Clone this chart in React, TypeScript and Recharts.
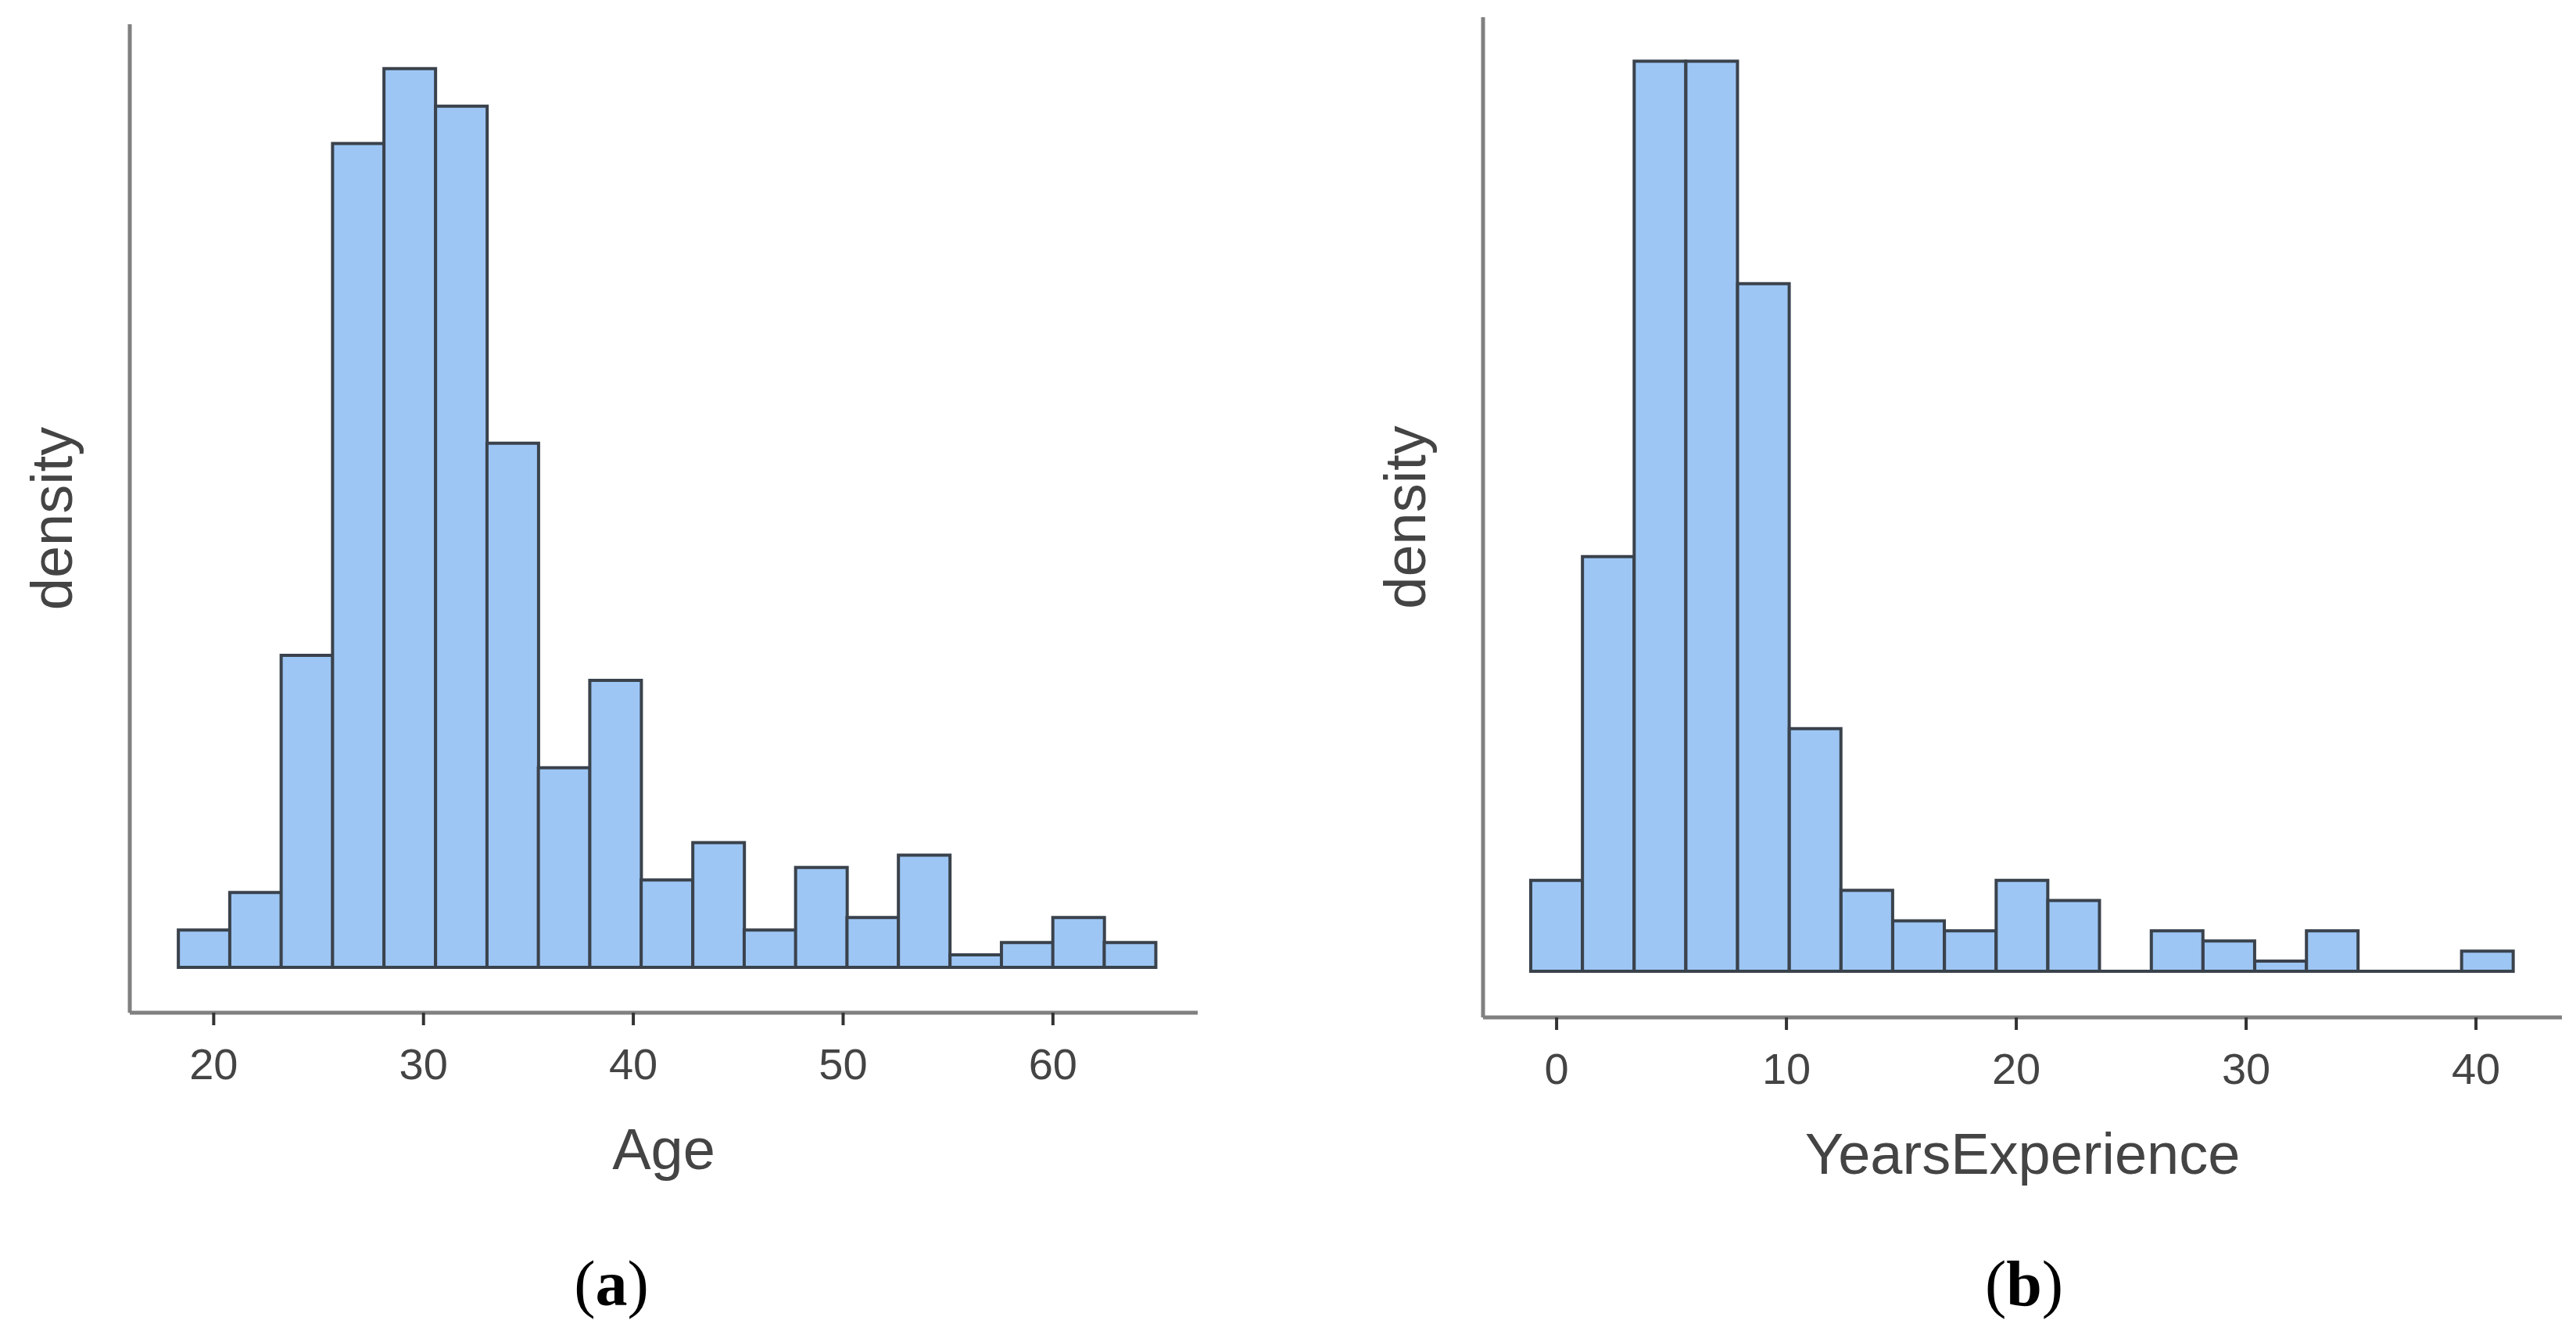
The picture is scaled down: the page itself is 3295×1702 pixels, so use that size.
import { BarChart, Bar, XAxis, YAxis, ReferenceLine } from 'recharts';

// (a) Age: bin centres, counts (the y axis is "density", shape only)
const ageBinCenters = [
  19.54, 21.99, 24.44, 26.89, 29.34, 31.8, 34.25, 36.7, 39.15, 41.6,
  44.06, 46.51, 48.96, 51.41, 53.86, 56.32, 58.77, 61.22, 63.67,
];
const ageBinWidth = 2.452;
const ageCounts = [3, 6, 25, 66, 72, 69, 42, 16, 23, 7, 10, 3, 8, 4, 9, 1, 2, 4, 2];
const ageTicks = [20, 30, 40, 50, 60];

// (b) YearsExperience
const expBinCenters = [
  0, 2.25, 4.5, 6.75, 9, 11.25, 13.5, 15.75, 18, 20.25,
  22.5, 24.75, 27, 29.25, 31.5, 33.75, 36, 38.25, 40.5,
];
const expBinWidth = 2.25;
const expCounts = [9, 41, 90, 90, 68, 24, 8, 5, 4, 9, 7, 0, 4, 3, 1, 4, 0, 0, 2];
const expTicks = [0, 10, 20, 30, 40];

const SANS = '"Liberation Sans", Arial, sans-serif';
const SERIF = '"Liberation Serif", "Times New Roman", serif';
const TEXT = '#444444';
const AXIS = '#808080';
const OUTLINE = '#3a424c';
const FILL = '#9dc6f4';

interface HistogramProps {
  left: number;
  width: number;
  centers: number[];
  counts: number[];
  binWidth: number;
  ticks: number[];
  xDomain: [number, number];
  yDomain: [number, number];
  xLabel: string;
  margin: { top: number; right: number; bottom: number; left: number };
}

const Histogram = ({ left, width, centers, counts, binWidth, ticks, xDomain, yDomain, xLabel, margin }: HistogramProps) => {
  const data = centers.map((mid, i) => ({ mid, count: counts[i] }));
  const first = centers[0] - binWidth / 2;
  const last = centers[centers.length - 1] + binWidth / 2;

  return (
    <div style={{ position: 'absolute', left, top: 0 }}>
      <BarChart width={width} height={1702} data={data} margin={margin} barCategoryGap={0} barGap={0}>
        <XAxis
          type="number"
          dataKey="mid"
          domain={xDomain}
          allowDataOverflow
          ticks={ticks}
          interval={0}
          height={100}
          axisLine={{ stroke: AXIS, strokeWidth: 5 }}
          tickLine={{ stroke: '#333333', strokeWidth: 4 }}
          tickSize={16}
          tickMargin={29}
          tick={{ fill: TEXT, fontSize: 56, fontFamily: SANS }}
          label={{ value: xLabel, position: 'bottom', offset: 47, fill: TEXT, fontSize: 74, fontFamily: SANS }}
        />
        <YAxis
          type="number"
          domain={yDomain}
          allowDataOverflow
          width={201}
          tick={false}
          tickLine={false}
          axisLine={{ stroke: AXIS, strokeWidth: 5 }}
          label={{ value: 'density', angle: -90, position: 'center', fill: TEXT, fontSize: 74, fontFamily: SANS }}
        />
        {/* ligne de base: les classes vides gardent leur contour en bas */}
        <ReferenceLine
          segment={[{ x: first, y: 0 }, { x: last, y: 0 }]}
          stroke={OUTLINE}
          strokeWidth={4}
        />
        <Bar dataKey="count" fill={FILL} stroke={OUTLINE} strokeWidth={4} isAnimationActive={false} />
      </BarChart>
    </div>
  );
};

const Caption = ({ letter, center }: { letter: string; center: number }) => (
  <div
    style={{
      position: 'absolute', left: center - 200, top: 1601, width: 400,
      textAlign: 'center', fontFamily: SERIF, fontSize: 82, lineHeight: 1, color: '#000',
    }}
  >
    (<b>{letter}</b>)
  </div>
);

const App = () => (
  <div style={{ position: 'absolute', left: 0, top: 0, width: 3295, height: 1702, background: '#fff', overflow: 'hidden' }}>
    <Histogram
      left={-40}
      width={1680}
      centers={ageBinCenters}
      counts={ageCounts}
      binWidth={ageBinWidth}
      ticks={ageTicks}
      xDomain={[16.0, 66.9]}
      yDomain={[-3.63, 75.56]}
      xLabel="Age"
      margin={{ top: 31, right: 108, bottom: 307, left: 5 }}
    />
    <Histogram
      left={1640}
      width={1655}
      centers={expBinCenters}
      counts={expCounts}
      binWidth={expBinWidth}
      ticks={expTicks}
      xDomain={[-3.2, 43.74]}
      yDomain={[-4.56, 94.35]}
      xLabel="YearsExperience"
      margin={{ top: 22, right: 18, bottom: 301, left: 56 }}
    />
    <Caption letter="a" center={782} />
    <Caption letter="b" center={2589} />
  </div>
);

export default App;
